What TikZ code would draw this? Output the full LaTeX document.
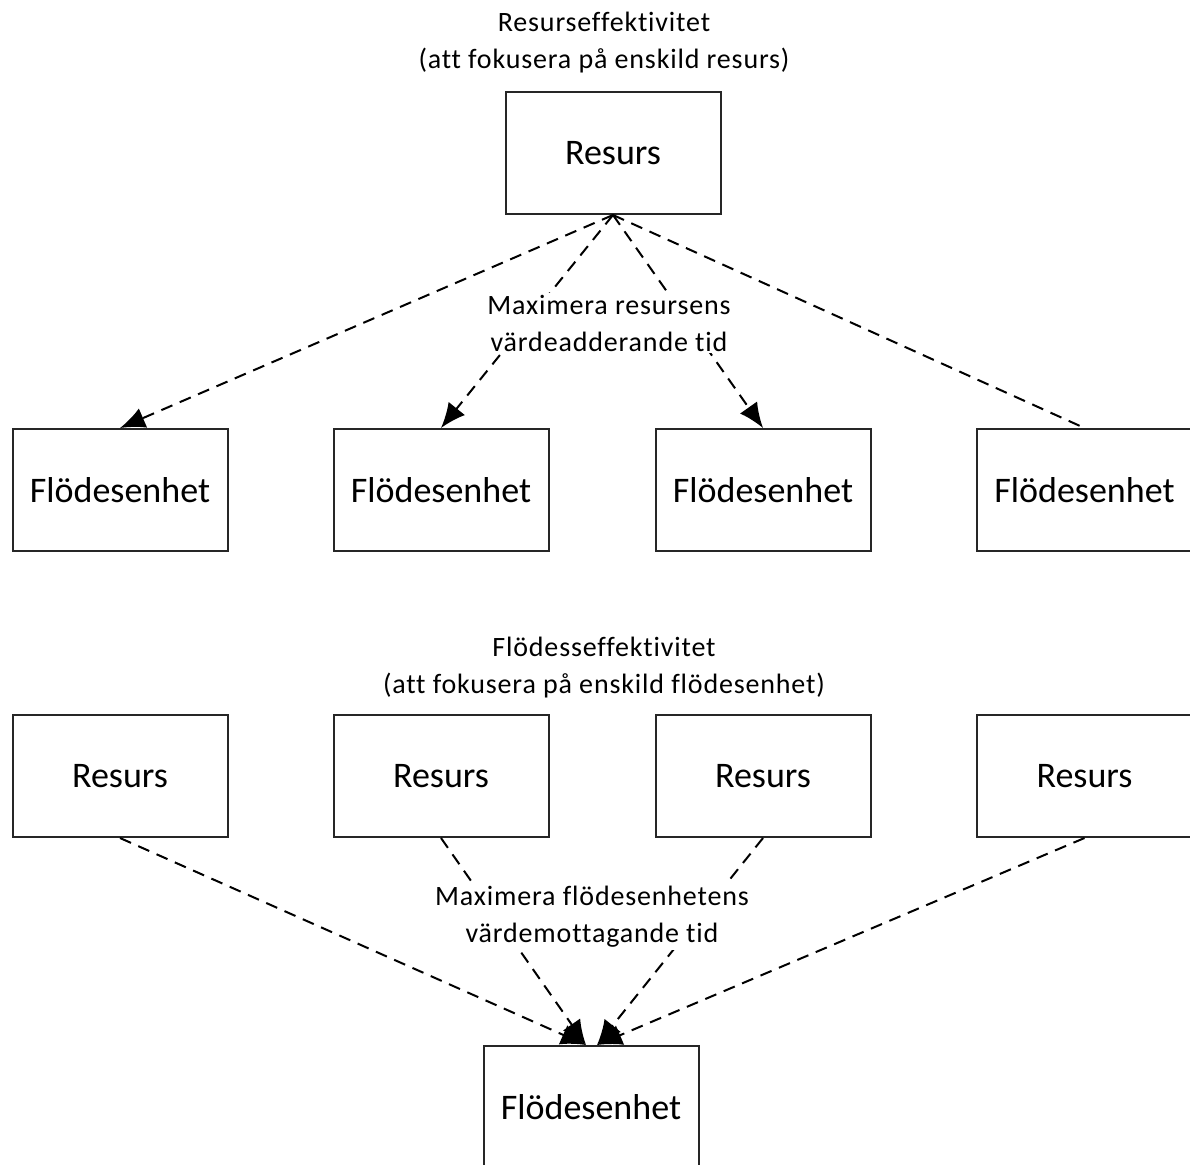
\documentclass[tikz,border=0pt]{standalone}
\usepackage{fontspec}
\setmainfont[Ligatures={NoCommon}]{Carlito}
\newfontfamily\smallfam[Ligatures={NoCommon},LetterSpace=3]{Carlito}
\usetikzlibrary{arrows.meta,calc}
\begin{document}
\begin{tikzpicture}[x=1pt,y=-1pt,
  box/.style={draw=black!85,line width=2pt,minimum width=215pt,minimum height=122pt,inner sep=0pt,font=\fontsize{36}{40}\selectfont},
  lbl/.style={align=center,font=\smallfam\fontsize{28}{37}\selectfont,inner sep=2pt},
  conn/.style={draw=black,line width=2pt,dash pattern=on 12pt off 8pt},
  arr/.style={conn,-{Latex[length=25pt,width=21pt]}}]
\useasboundingbox[fill=white] (0,0) rectangle (1190,1164);
\clip (0,0) rectangle (1190,1164);
% top part
\node[box] (r0) at (613,153) {Resurs};
\node[box] (f1) at (120,490) {Flödesenhet};
\node[box] (f2) at (441,490) {Flödesenhet};
\node[box] (f3) at (763,490) {Flödesenhet};
\node[box] (f4) at (1084.5,490) {Flödesenhet};
\draw[arr] (r0.south) -- (f1.north);
\draw[arr] (r0.south) -- (f2.north);
\draw[arr] (r0.south) -- (f3.north);
\draw[conn] (r0.south) -- (f4.north);
\node[lbl] (t1) at (604,43) {Resurseffektivitet\\(att fokusera på enskild resurs)};
\node[lbl,fill=white] (m1) at (609,323) {Maximera resursens\\värdeadderande tid};
% bottom part
\node[box] (r1) at (120,776) {Resurs};
\node[box] (r2) at (441,776) {Resurs};
\node[box] (r3) at (763,776) {Resurs};
\node[box] (r4) at (1084.5,776) {Resurs};
\node[box] (fb) at (591,1107) {Flödesenhet};
\coordinate (fbl) at ($(fb.north)+(-5,0)$);
\coordinate (fbr) at ($(fb.north)+(6,0)$);
\draw[arr] (r1.south) -- (fbl);
\draw[arr] (r2.south) -- (fbl);
\draw[arr] (r3.south) -- (fbr);
\draw[arr] (r4.south) -- (fbr);
\node[lbl] (t2) at (604,668) {Flödesseffektivitet\\(att fokusera på enskild flödesenhet)};
\node[lbl,fill=white] (m2) at (592,917) {Maximera flödesenhetens\\värdemottagande tid};
\end{tikzpicture}
\end{document}
